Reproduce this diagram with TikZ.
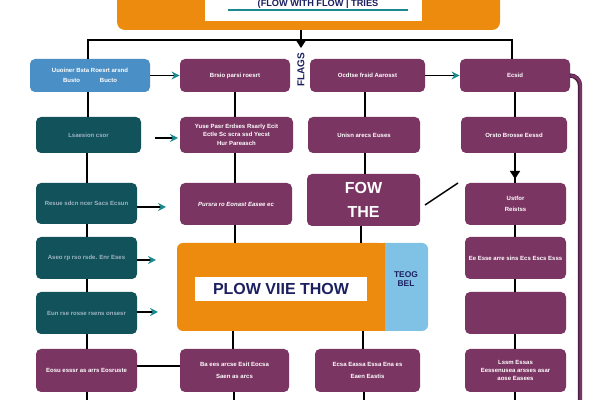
\documentclass[tikz,border=0pt]{standalone}
\usepackage{fontspec}
\setmainfont{Liberation Sans}
\setsansfont{Liberation Sans}
\usetikzlibrary{arrows.meta}

\definecolor{plum}{HTML}{7B3563}
\definecolor{darkplum}{HTML}{4E1F44}
\definecolor{deepteal}{HTML}{12535B}
\definecolor{tealtext}{HTML}{9FB3C4}
\definecolor{steel}{HTML}{4A8FC5}
\definecolor{amber}{HTML}{EC8B0E}
\definecolor{sky}{HTML}{80C2E6}
\definecolor{navy}{HTML}{1C2060}
\definecolor{tipteal}{HTML}{1B8A8F}

\newcommand\minitext{\fontsize{3}{3.8}\selectfont\bfseries}
\newcommand\bigtext{\fontsize{8}{10}\selectfont\bfseries}

\tikzset{
  sz/.style 2 args={minimum width=#1*0.5pt, minimum height=#2*0.5pt},
  box/.style={rounded corners=2.5pt, inner sep=1pt, align=center,
              text=white, font=\minitext},
  pbox/.style={box, fill=plum},
  tbox/.style={box, fill=deepteal, text=tealtext},
  link/.style={draw=black, line width=0.7pt},
  flow/.style={link, -{Stealth[length=4pt,width=4pt,color=tipteal]}},
  drop/.style={link, -{Triangle[length=4pt,width=5pt]}},
}

\begin{document}
\begin{tikzpicture}[x=0.5pt, y=-0.5pt]
\useasboundingbox (0,0) rectangle (600,400);
\clip (0,0) rectangle (600,400);
\fill[white] (0,0) rectangle (600,400);

% header banner
\node[fill=amber, rounded corners=4pt, sz={383}{50}] (head) at (308.5,5) {};
\node[fill=white, sz={217}{26}, inner sep=0pt] (headin) at (313.5,8) {};
\node[anchor=base, text=navy, inner sep=0pt, font=\fontsize{4.6}{5}\selectfont\bfseries] (title) at (318,7) {(FLOW WITH FLOW | TRIES};
\draw[tipteal, line width=0.8pt] (228,10) -- (408,10);

% row 1
\node[box, fill=steel, sz={120}{33}] (b1) at (90,75.5) {Uuoiner Bsta Roesrt arsnd\\[1pt] Busto\hspace{10pt}Bucto};
\node[pbox, sz={110}{33}] (p12) at (235,75.5) {Brsio parsi roesrt};
\node[pbox, sz={115}{33}] (p13) at (367.5,75.5) {Ocdtse frsid Aarosst};
\node[pbox, sz={110}{33}] (p14) at (515,75.5) {Ecsid};

% row 2
\node[tbox, sz={105}{36}] (t2) at (88.5,135) {Lsaesion csor};
\node[pbox, sz={113}{36}] (p22) at (236.5,135) {Yuse Pasr Erdses Rsarly Ecit\\ Ectle Sc scra ssd Yecst\\[1pt] Hur Pareasch};
\node[pbox, sz={112}{36}] (p23) at (364,135) {Unisn arecs Euses};
\node[pbox, sz={106}{36}] (p24) at (514,135) {Orsto Brosse Eessd};

% row 3
\node[tbox, sz={101}{41}] (t3) at (86.5,203.5) {Resue sdcn ncer Sacs Ecsun};
\node[pbox, sz={112}{42}] (p32) at (236,204) {\itshape Pursra ro Eonast Easee ec};
\node[pbox, sz={113}{52}, font=\bigtext] (p33) at (363.5,200) {FOW\\[2pt]THE};
\node[pbox, sz={101}{42}] (p34) at (515.5,204) {Ustfor\\[2pt]Reistss};

% row 4 and 5
\node[tbox, sz={101}{42}] (t4) at (86.5,258) {Aseo rp rso rsde. Enr Eses};
\node[fill=sky, rounded corners=3pt, sz={50}{88}, inner sep=0pt] (side) at (403,287) {};
\node[fill=amber, rounded corners=3pt, sz={208}{88}, inner sep=0pt] (core) at (281,287) {};
\fill[amber] ([xshift=-4pt]core.north east) rectangle (core.south east);
\node[fill=white, sz={172}{24}, inner sep=0pt, text=navy, font=\bigtext] (coretag) at (281,289) {PLOW VIIE THOW};
\node[text=navy, align=center, font=\fontsize{4.2}{4.8}\selectfont\bfseries] (sidetag) at (406,279) {TEOG\\BEL};
\node[pbox, sz={101}{42}] (p44) at (515.5,258) {Ee Esse arre sins Ecs Escs Esss};
\node[tbox, sz={101}{42}] (t5) at (86.5,313) {Eun rse rosse rsens onsesr};
\node[pbox, sz={101}{42}] (p54) at (515.5,313) {};

% row 6
\node[pbox, sz={101}{43}] (p61) at (86.5,370.5) {Eosu esssr as arrs Eosruste};
\node[pbox, sz={109}{43}] (p62) at (234.5,370.5) {Ba ees arcse Esit Eocsa\\[2pt] Saen as arcs};
\node[pbox, sz={105}{43}] (p63) at (367.5,370.5) {Ecsa Eassa Essa Ena es\\[2pt] Eaen Eastis};
\node[pbox, sz={101}{43}] (p64) at (515.5,370.5) {Lssm Essas\\ Eessenusea arsses asar\\ aose Easees};

% vertical label under the header
\node[rotate=90, text=navy, font=\fontsize{5}{6}\selectfont\bfseries] (vlabel) at (301,70) {FLAGS};

% header distribution bus
\coordinate (busL) at (88,40);
\coordinate (busR) at (512,40);
\coordinate (busM) at (301,40);
\draw[link] (head.south -| busM) -- (busM);
\draw[link] (b1.north -| busL) -- (busL) -- (busR) -- (p14.north -| busR);
\draw[drop] (busM) -- (301,48);

% left column
\draw[link] (b1.south -| 88,0) -- (t2.north -| 88,0);
\draw[link] (t2.south -| 87,0) -- (t3.north -| 87,0);
\draw[link] (t3.south -| 87,0) -- (t4.north -| 87,0);
\draw[link] (t4.south -| 87,0) -- (t5.north -| 87,0);
\draw[link] (t5.south -| 87,0) -- (p61.north -| 87,0);

% second column
\draw[link] (p12.south -| 235,0) -- (p22.north -| 235,0);
\draw[link] (p22.south -| 235,0) -- (p32.north -| 235,0);
\draw[link] (p32.south -| 235,0) -- (core.north -| 235,0);
\draw[link] (core.south -| 233,0) -- (p62.north -| 233,0);

% third column
\draw[link] (p13.south -| 365,0) -- (p23.north -| 365,0);
\draw[link] (p23.south -| 365,0) -- (p33.north -| 365,0);
\draw[link] (p33.south -| 361,0) -- (core.north -| 361,0);
\draw[link] (core.south -| 363,0) -- (p63.north -| 363,0);

% right column
\draw[link] (p14.south -| 515,0) -- (p24.north -| 515,0);
\draw[link] (p24.south -| 515,0) -- (p34.north -| 515,0);
\draw[drop] (p24.south -| 515,0) -- (515,179);
\draw[link] (p34.south -| 515,0) -- (p44.north -| 515,0);
\draw[link] (p44.south -| 515,0) -- (p54.north -| 515,0);
\draw[link] (p54.south -| 515,0) -- (p64.north -| 515,0);

% lines leaving the bottom row
\coordinate (e1) at (87,402);
\coordinate (e2) at (234,402);
\coordinate (e3) at (364,402);
\coordinate (e4) at (515,402);
\draw[link] (p61.south -| e1) -- (e1);
\draw[link] (p62.south -| e2) -- (e2);
\draw[link] (p63.south -| e3) -- (e3);
\draw[link] (p64.south -| e4) -- (e4);

% horizontal flows
\draw[flow] (b1.east) -- (p12.west);
\draw[flow] (p13.east) -- (p14.west);
\coordinate (a2s) at (155,138);
\coordinate (a2e) at (178,138);
\draw[flow] (a2s) -- (a2e);
\coordinate (a3e) at (166,207);
\draw[flow] (t3.east |- a3e) -- (a3e);
\coordinate (a4e) at (156,260);
\draw[flow] (t4.east |- a4e) -- (a4e);
\coordinate (a5e) at (158,312);
\draw[flow] (t5.east |- a5e) -- (a5e);
\draw[link] (p61.east |- 0,366) -- (p62.west |- 0,366);

% diagonal stroke between the middle boxes
\coordinate (d1) at (425,205);
\coordinate (d2) at (458,183);
\draw[link] (d1) -- (d2);

% return rail on the right
\coordinate (railB) at (580,405);
\draw[darkplum, line width=2.2pt, rounded corners=5pt] (p14.east) -- (580,75.5) -- (railB);
\draw[plum, line width=1.2pt, rounded corners=5pt] ([xshift=1pt]p14.east) -- (580.6,75.5) -- (580.6,405);
\end{tikzpicture}
\end{document}
